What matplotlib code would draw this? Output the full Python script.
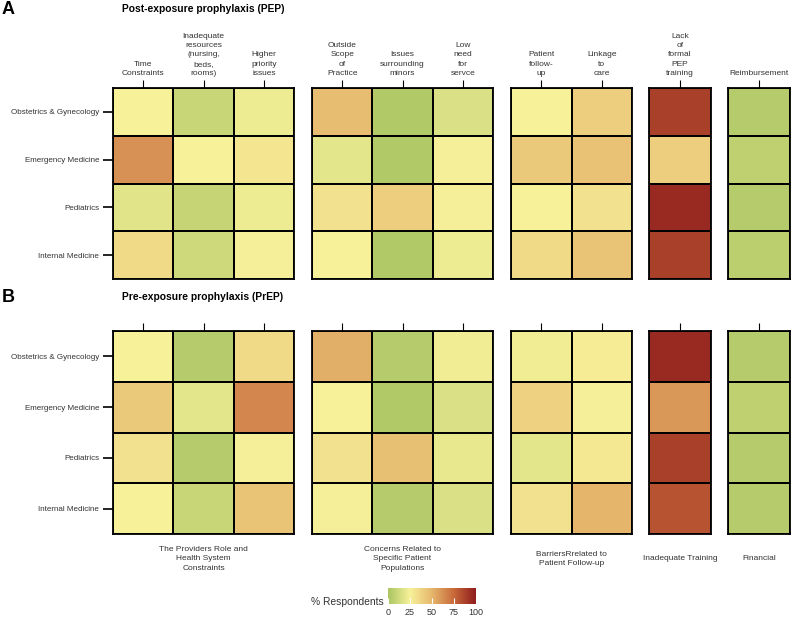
import numpy as np
import matplotlib.pyplot as plt
from matplotlib.colors import LinearSegmentedColormap

plt.rcParams['font.family'] = ['Liberation Sans', 'DejaVu Sans']

rows = ['Obstetrics & Gynecology', 'Emergency Medicine', 'Pediatrics', 'Internal Medicine']
col_labels = ['Time\nConstraints', 'Inadequate\nresources\n(nursing,\nbeds,\nrooms)', 'Higher\npriority\nissues',
              'Outside\nScope\nof\nPractice', 'Issues\nsurrounding\nminors', 'Low\nneed\nfor\nservce',
              'Patient\nfollow-\nup', 'Linkage\nto\ncare',
              'Lack\nof\nformal\nPEP\ntraining',
              'Reimbursement']
group_sizes = [3, 3, 2, 1, 1]
group_labels = ['The Providers Role and\nHealth System\nConstraints',
                'Concerns Related to\nSpecific Patient\nPopulations',
                'BarriersRrelated to\nPatient Follow-up',
                'Inadequate Training', 'Financial']

# % respondents, rows x columns
pep = np.array([
    [25, 10, 22, 47, 3, 16, 25, 40, 88, 4],
    [62, 25, 30, 19, 3, 24, 42, 45, 40, 7],
    [18, 9, 22, 32, 40, 24, 25, 32, 95, 4],
    [35, 12, 24, 25, 3, 22, 35, 44, 88, 6],
])
prep = np.array([
    [25, 4, 35, 52, 4, 23, 23, 27, 95, 4],
    [42, 19, 65, 25, 3, 16, 38, 24, 60, 7],
    [32, 4, 24, 32, 46, 20, 19, 29, 88, 4],
    [25, 10, 44, 24, 4, 16, 32, 50, 82, 4],
])

cmap = LinearSegmentedColormap.from_list('resp', [
    (0.0, '#aac462'), (0.25, '#f7f19a'), (0.5, '#e5b66c'),
    (0.75, '#c8683a'), (1.0, '#8e1c1c')])

W, H = 791, 618
fig = plt.figure(figsize=(W / 100, H / 100), dpi=100)

group_x = [(113, 294), (312, 493), (511, 632), (649, 711), (728, 790)]
panels = [(pep, 88, 279, 'A', 'Post-exposure prophylaxis (PEP)', 10, True),
          (prep, 331, 534, 'B', 'Pre-exposure prophylaxis (PrEP)', 298, False)]

for data, y0, y1, letter, title, ty, show_labels in panels:
    fig.text(2 / W, 1 - ty / H, letter, fontsize=13, fontweight='bold', va='center', ha='left')
    fig.text(122 / W, 1 - (ty - 1) / H, title, fontsize=7.4, fontweight='bold', va='center', ha='left')
    start = 0
    for g, n in enumerate(group_sizes):
        xa, xb = group_x[g]
        ax = fig.add_axes([xa / W, 1 - y1 / H, (xb - xa) / W, (y1 - y0) / H])
        sub = data[:, start:start + n]
        ax.pcolormesh(sub, cmap=cmap, vmin=0, vmax=100, edgecolors='black', linewidth=1.3)
        ax.set_xlim(0, n)
        ax.set_ylim(4, 0)
        for s in ax.spines.values():
            s.set_linewidth(1.3)
        ax.xaxis.tick_top()
        ax.set_xticks(np.arange(n) + 0.5)
        if show_labels:
            ax.set_xticklabels(col_labels[start:start + n], fontsize=6, color='#333333', linespacing=1.45)
        else:
            ax.set_xticklabels([])
        ax.tick_params(axis='x', length=6, width=0.8, pad=2)
        if g == 0:
            ax.set_yticks(np.arange(4) + 0.5)
            ax.set_yticklabels(rows, fontsize=5.8, color='#333333')
            ax.tick_params(axis='y', length=7, width=1.2, pad=3)
        else:
            ax.set_yticks([])
        if not show_labels:
            fig.text((xa + xb) / 2 / W, 1 - 559 / H, group_labels[g], fontsize=6, color='#333333',
                     ha='center', va='center', linespacing=1.55)
        start += n

cax = fig.add_axes([388 / W, 1 - 604 / H, 88 / W, 16 / H])
sm = plt.cm.ScalarMappable(cmap=cmap, norm=plt.Normalize(0, 100))
cb = fig.colorbar(sm, cax=cax, orientation='horizontal', ticks=[0, 25, 50, 75, 100])
cb.outline.set_visible(False)
cb.ax.tick_params(labelsize=6.5, direction='in', color='white', length=4, pad=3, labelcolor='#333333')
fig.text(384 / W, 1 - 602 / H, '% Respondents', fontsize=7.4, color='#333333', ha='right', va='center')

fig.savefig('out.png', dpi=100)
